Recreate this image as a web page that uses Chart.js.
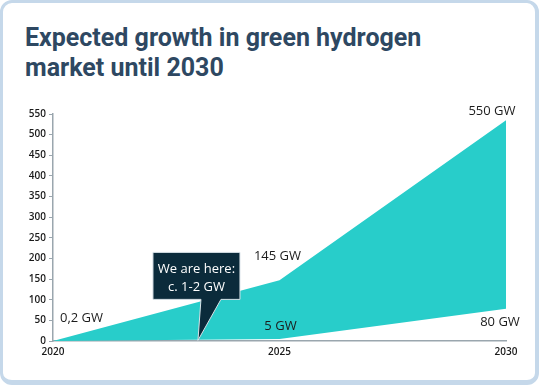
<!DOCTYPE html>
<html>
<head>
<meta charset="utf-8">
<script src="https://cdn.jsdelivr.net/npm/chart.js@4/dist/chart.umd.min.js"></script>
<style>
  html, body { margin: 0; padding: 0; background: #ffffff; }
  body { width: 539px; height: 385px; position: relative; overflow: hidden; }
  #card {
    position: absolute; left: 0; top: 0; width: 539px; height: 385px;
    box-sizing: border-box; border: 3px solid #c5d8ea; border-right-width: 4px; border-bottom-width: 5px;
    border-radius: 12px; background: #ffffff;
  }
  #title {
    position: absolute; left: 25px; top: 23px; margin: 0;
    font-family: Roboto, "Noto Sans", sans-serif; font-weight: 700; font-size: 25px; line-height: 30px;
    color: #2e4862; white-space: nowrap;
  }
  #c { position: absolute; left: 0; top: 0; }
</style>
</head>
<body>
<div id="card"></div>
<h1 id="title">Expected growth in green hydrogen<br>market until 2030</h1>
<canvas id="c" width="539" height="385"></canvas>
<script>
// ---- data ----
const years = [2020, 2025, 2030];
const upperGW = [0.2, 147, 535];
const lowerGW = [0, 5, 78];
const upperLabels = ['0,2 GW', '145 GW', '550 GW'];
const lowerLabels = ['', '5 GW', '80 GW'];
const xTickLabels = ['2020', '2025', '2030'];
const yMax = 550;
const yStep = 50;
const calloutYear = 2023.2;
const calloutGW = 1.5;
const calloutLines = ['We are here:', 'c. 1-2 GW'];

const TEAL = '#28cdca';
const NAVY = '#0b2b3b';
const AXIS = '#9aa6ae';

const annotatePlugin = {
  id: 'annotate',
  afterDatasetsDraw(chart) {
    const ctx = chart.ctx;
    const xs = chart.scales.x, ys = chart.scales.y;
    ctx.save();
    ctx.font = '13px "Open Sans", sans-serif';
    ctx.fillStyle = '#1c1c1c';
    ctx.textBaseline = 'middle';
    const upOff = [[7, -23, 'left'], [-2, -24, 'center'], [-14, -9, 'center']];
    upperLabels.forEach((t, i) => {
      if (!t) return;
      const px = xs.getPixelForValue(years[i]);
      const py = ys.getPixelForValue(upperGW[i]);
      ctx.textAlign = upOff[i][2];
      ctx.fillText(t, px + upOff[i][0], py + upOff[i][1]);
    });
    const lowOff = [[0, 0, 'center'], [1, -13, 'center'], [-6, 13, 'center']];
    lowerLabels.forEach((t, i) => {
      if (!t) return;
      const px = xs.getPixelForValue(years[i]);
      const py = ys.getPixelForValue(lowerGW[i]);
      ctx.textAlign = lowOff[i][2];
      ctx.fillText(t, px + lowOff[i][0], py + lowOff[i][1]);
    });
    // callout
    const tx = xs.getPixelForValue(calloutYear);
    const ty = ys.getPixelForValue(calloutGW);
    const L = tx - 45, R = tx + 42, T = ty - 88, B = ty - 41;
    ctx.beginPath();
    ctx.moveTo(L, T);
    ctx.lineTo(R, T);
    ctx.lineTo(R, B);
    ctx.lineTo(tx + 23, B);
    ctx.lineTo(tx, ty);
    ctx.lineTo(tx + 3, B);
    ctx.lineTo(L, B);
    ctx.closePath();
    ctx.fillStyle = NAVY;
    ctx.fill();
    ctx.lineWidth = 1;
    ctx.strokeStyle = '#d9e2e8';
    ctx.stroke();
    ctx.fillStyle = '#ffffff';
    ctx.textAlign = 'center';
    const cx = (L + R) / 2;
    calloutLines.forEach((t, i) => {
      ctx.fillText(t, cx, T + 17 + i * 18);
    });
    ctx.restore();
  }
};

new Chart(document.getElementById('c'), {
  type: 'line',
  data: {
    datasets: [
      {
        data: years.map((y, i) => ({ x: y, y: upperGW[i] })),
        borderWidth: 0, pointRadius: 0, backgroundColor: TEAL, borderColor: TEAL,
        fill: '+1', tension: 0
      },
      {
        data: years.map((y, i) => ({ x: y, y: lowerGW[i] })),
        borderWidth: 0, pointRadius: 0, backgroundColor: TEAL, borderColor: TEAL,
        fill: false, tension: 0
      }
    ]
  },
  options: {
    responsive: false,
    animation: false,
    events: [],
    layout: { padding: { left: 0, right: 33, top: 114, bottom: 24 } },
    plugins: { legend: { display: false }, tooltip: { enabled: false }, title: { display: false } },
    scales: {
      x: {
        type: 'linear', min: 2020, max: 2030,
        afterFit(s) { s.height = 20; },
        afterBuildTicks(s) { s.ticks = years.map(v => ({ value: v })); },
        ticks: {
          padding: 5, maxRotation: 0, autoSkip: false,
          callback: (v) => xTickLabels[years.indexOf(v)],
          font: { family: '"Open Sans", sans-serif', size: 10, weight: '600' }, color: '#1a1a1a'
        },
        grid: { drawOnChartArea: false, drawTicks: false },
        border: { display: true, color: AXIS, width: 1.5 }
      },
      y: {
        min: 0, max: yMax,
        afterFit(s) { s.width = 53; },
        ticks: {
          stepSize: yStep, padding: 3,
          font: { family: '"Open Sans", sans-serif', size: 10, weight: '600' }, color: '#1a1a1a'
        },
        grid: { drawOnChartArea: false, drawTicks: true, tickLength: 4, color: AXIS, lineWidth: 1 },
        border: { display: true, color: AXIS, width: 1.5 }
      }
    }
  },
  plugins: [annotatePlugin]
});
</script>
</body>
</html>
